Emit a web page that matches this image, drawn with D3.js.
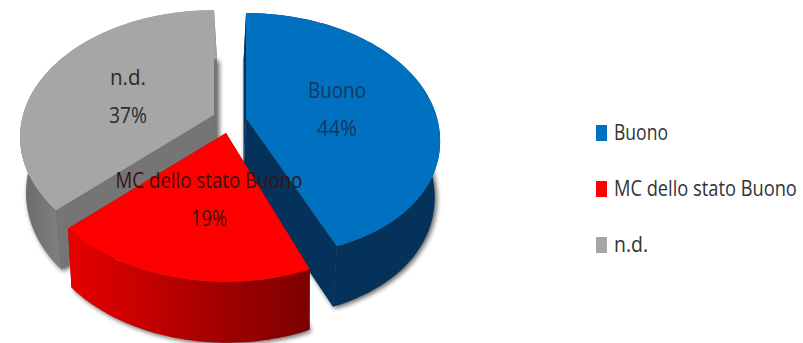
<!DOCTYPE html>
<html>
<head>
<meta charset="utf-8">
<style>
html,body{margin:0;padding:0;background:#fff;overflow:hidden}
text{font-family:"Open Sans","Noto Sans",sans-serif}
</style>
<script src="https://cdn.jsdelivr.net/npm/d3@7"></script>
</head>
<body>
<svg id="chart" width="803" height="343"></svg>
<script>
// Chart data
const categories = ["Buono", "MC dello stato Buono", "n.d."];
const shares = [44, 19, 37];

// One style per slice: top face, cut-face wall, rim gradient from left to right
const topColors = ["#0070c0", "#ff0000", "#a6a6a6"];
const cutColors = ["#05325a", "#8a0000", "#757575"];
const rimStops = [
  ["#05325a", "#05325a", "#05325a"],
  ["#e80000", "#b00000", "#7c0000"],
  ["#6a6a6a", "#9e9e9e", "#a2a2a2"]
];

// Apex of each exploded slice, lower-face drift and front-edge correction
const apexes = [[246, 118], [226, 133], [214, 115]];
const drift = [-2.5, 1, 3];
const frontBend = [[7, -8], [0, 0], [0, 0]];
// Text placement of the data labels
const labelCentres = [[337, 98], [209, 188], [128, 85]];
const labelWidths = [58, 187, 36];
const percentWidths = [40, 36, 38];
const legendWidths = [54, 183, 34];

// Perspective projection of the tilted disc
const tilt = {a: 191, b: 123, k: 0.173};
const project = (slice, angle, radius) => {
  const u = radius * Math.sin(angle), v = -radius * Math.cos(angle);
  const w = 1 - tilt.k * v;
  const x = tilt.a * u / w, y = tilt.b * v / w;
  const t = y > 0 ? (y / 136) ** 2 : 0;
  return {x: x + frontBend[slice][0] * t, y: y + frontBend[slice][1] * t, v};
};
const extrude = v => 55 + 6 * v;

const svg = d3.select("#chart");
const defs = svg.append("defs");
const shadow = defs.append("filter").attr("id", "soft")
  .attr("x", "-10%").attr("y", "-10%").attr("width", "120%").attr("height", "120%");
shadow.append("feGaussianBlur").attr("stdDeviation", 2.4);

const pieLayout = d3.pie().sort(null).startAngle(0).endAngle(2 * Math.PI).value(d => d);
const arcs = pieLayout(shares);
const total = d3.sum(shares);

const line = d3.line().x(d => d[0]).y(d => d[1]);
const arcSamples = (a0, a1) => d3.range(0, 81).map(i => a0 + (a1 - a0) * i / 80);

const topPoint = (slice, angle, radius) => {
  const p = project(slice, angle, radius);
  return [apexes[slice][0] + p.x, apexes[slice][1] + p.y];
};
const lowPoint = (slice, angle, radius) => {
  const p = project(slice, angle, radius);
  return [apexes[slice][0] + p.x * 0.985 + drift[slice], apexes[slice][1] + p.y + extrude(p.v)];
};

// Back-to-front painting order: grey, blue, red
const order = [2, 0, 1];
order.forEach(i => {
  const {startAngle: a0, endAngle: a1} = arcs[i];
  const samples = arcSamples(a0, a1);
  const g = svg.append("g").attr("class", "slice");

  // Soft shadow under the lower rim
  g.append("path")
    .attr("d", line([lowPoint(i, a0, 0), ...samples.map(a => lowPoint(i, a, 1))]) + "Z")
    .attr("fill", "#111").attr("opacity", 0.7)
    .attr("transform", "translate(2,1.5)")
    .attr("filter", "url(#soft)");

  // Flat cut faces running from the apex to both ends of the arc
  [a0, a1].forEach(a => {
    g.append("path")
      .attr("d", line([topPoint(i, a, 0), topPoint(i, a, 1), lowPoint(i, a, 1), lowPoint(i, a, 0)]) + "Z")
      .attr("fill", cutColors[i]);
  });

  // Rim as one band, shaded across its horizontal extent
  const upper = samples.map(a => topPoint(i, a, 1));
  const lower = samples.map(a => lowPoint(i, a, 1)).reverse();
  const xExtent = d3.extent([...upper, ...lower], d => d[0]);
  const grad = defs.append("linearGradient").attr("id", "rim" + i)
    .attr("gradientUnits", "userSpaceOnUse")
    .attr("x1", xExtent[0]).attr("x2", xExtent[1]).attr("y1", 0).attr("y2", 0);
  rimStops[i].forEach((c, j) => {
    grad.append("stop").attr("offset", j / (rimStops[i].length - 1)).attr("stop-color", c);
  });
  g.append("path")
    .attr("d", line([...upper, ...lower]) + "Z")
    .attr("fill", `url(#rim${i})`);

  // Top face
  g.append("path")
    .attr("d", line([topPoint(i, a0, 0), ...upper]) + "Z")
    .attr("fill", topColors[i]);
});

// Draws a string and squeezes it horizontally to the wanted width
const condensedText = (parent, str, x, y, width, anchor, ink) => {
  const t = parent.append("text")
    .attr("text-anchor", anchor).attr("font-size", 21).attr("fill", ink).text(str);
  const sx = width / t.node().getComputedTextLength();
  t.attr("transform", `translate(${x},${y}) scale(${sx},1)`);
  return t;
};

// Data labels: category name above its percentage
const labelInk = ["#16365f", "#3a1212", "#2b2b2b"];
const labels = svg.append("g").attr("class", "labels");
categories.forEach((name, i) => {
  const [cx, cy] = labelCentres[i];
  condensedText(labels, name, cx, cy, labelWidths[i], "middle", labelInk[i]);
  condensedText(labels, Math.round(shares[i] / total * 100) + "%", cx, cy + 38, percentWidths[i], "middle", labelInk[i]);
});

// Legend on the right
const legendY = d3.scalePoint().domain(categories).range([133, 245]);
const legend = svg.append("g").attr("class", "legend");
categories.forEach((name, i) => {
  legend.append("rect")
    .attr("x", 596).attr("y", legendY(name) - 8).attr("width", 11).attr("height", 16)
    .attr("fill", topColors[i]);
  condensedText(legend, name, 614, legendY(name) + 7, legendWidths[i], "start", "#333");
});
</script>
</body>
</html>
